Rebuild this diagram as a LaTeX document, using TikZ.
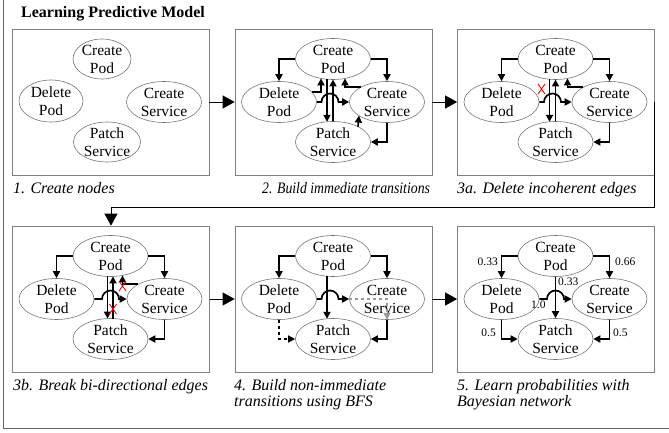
\documentclass[tikz,border=0pt]{standalone}
\usepackage{fontspec}
\setmainfont{Liberation Serif}
\usetikzlibrary{arrows.meta,calc,shapes.geometric}
\newcommand\stdnodes[3]{%
  \node[st,label={[txt]center:{Create\\Pod}}] (#1cp) at ($(#2,#3)+(98,30)$) {};
  \node[st,label={[txt]center:{Delete\\Pod}}] (#1dp) at ($(#2,#3)+(44,73)$) {};
  \node[st,label={[txt]center:{Create\\Service}}] (#1cs) at ($(#2,#3)+(152,73)$) {};
  \node[st,label={[txt]center:{Patch\\Service}}] (#1ps) at ($(#2,#3)+(98,113)$) {};
}
\newcommand\outeredges[1]{%
  \draw[edge] (#1cp.west) -| (#1dp.north);
  \draw[edge] (#1cp.east) -| (#1cs.north);
  \draw[edge] (#1cs.south) |- (#1ps.east);
}
\newcommand\hopedge[2]{%
  \draw[edge] (#1dp.east) -- ($(#1dp.east -| #1cp.center)+(#2-8.5,0)$)
    arc[start angle=180,end angle=360,radius=8.5] -- (#1cs.west);
}
\newcommand\redx[1]{%
  \draw[cross] ($(#1)+(-3.5,-5)$) -- ($(#1)+(3.5,5)$)
               ($(#1)+(3.5,-5)$) -- ($(#1)+(-3.5,5)$);
}
\begin{document}
\begin{tikzpicture}[x=1pt,y=-1pt,
  panel/.style={draw=black!50, line width=0.7pt, minimum width=197pt, minimum height=146pt, inner sep=0pt},
  st/.style={draw=black!55, line width=0.6pt, ellipse, minimum width=75pt, minimum height=41pt, inner sep=0pt},
  txt/.style={align=center, inner sep=0pt, font=\fontsize{15.5}{18}\selectfont},
  edge/.style={line width=1.7pt, -{Triangle[length=7pt,width=7pt]}},
  flow/.style={line width=0.9pt, -{Triangle[length=12pt,width=13pt]}},
  captxt/.style={anchor=base west, inner sep=0pt, font=\fontsize{16}{16.5}\itshape\selectfont, align=left},
  prob/.style={inner sep=0pt, font=\fontsize{11.5}{12}\selectfont},
  cross/.style={red, line width=0.9pt}
]
\useasboundingbox (0,0) rectangle (669,433);
% outer frame
\draw[black!60, line width=0.8pt] (3,0) -- (3,428) -- (669,428);
% title
\node[anchor=base west, inner sep=0pt, font=\fontsize{16}{18}\bfseries\selectfont] (title) at (21,18) {Learning Predictive Model};
% panels
\node[panel] (Pa) at (110.5,102) {};
\node[panel] (Pb) at (333.5,102) {};
\node[panel] (Pc) at (556,102) {};
\node[panel] (Pd) at (111,299) {};
\node[panel] (Pe) at (333.5,299) {};
\node[panel] (Pf) at (556,299) {};
% flow between panels
\coordinate (turn) at (111,207);
\draw[flow] (Pa.east) -- (Pb.west);
\draw[flow] (Pb.east) -- (Pc.west);
\draw[flow] (Pc.east) |- (turn) -- (Pd.north);
\draw[flow] (Pd.east) -- (Pe.west);
\draw[flow] (Pe.east) -- (Pf.west);
% captions
\node[captxt] (ca) at (13,193) {1. Create nodes};
\node[captxt] (cb) at (262,193) {\scalebox{0.86}[1]{2. Build immediate transitions}};
\node[captxt] (cc) at (457,193) {3a. Delete incoherent edges};
\node[captxt] (cd) at (13,390) {3b. Break bi-directional edges};
\node[captxt] (ce) at (234,406.5) {4. Build non-immediate\\transitions using BFS};
\node[captxt] (cf) at (457,406.5) {5. Learn probabilities with\\Bayesian network};
% ---------- panel 1
\node[st,minimum width=58pt,minimum height=40pt,label={[txt]center:{Create\\Pod}}] (acp) at (102,59) {};
\node[st,minimum width=64pt,minimum height=42pt,label={[txt]center:{Delete\\Pod}}] (adp) at (51,101) {};
\node[st,minimum width=75pt,minimum height=41pt,label={[txt]center:{Create\\Service}}] (acs) at (164,102) {};
\node[st,minimum width=67pt,minimum height=40pt,label={[txt]center:{Patch\\Service}}] (aps) at (107,142) {};
% ---------- panel 2
\stdnodes{b}{235}{29}
\outeredges{b}
\draw[edge] (bdp.17) -| ($(bcp.center)+(-12,19.4)$);
\draw[edge] ($(bcp.center)+(-6,20.2)$) -- ($(bps.center)+(-6,-20.2)$);
\draw[edge] ($(bps.center)+(0,-20.5)$) -- ($(bcp.center)+(0,20.5)$);
\draw[edge] (bcs.150) -| ($(bcp.center)+(12,19.4)$);
\draw[edge] ($(bps.center)+(25,-15.3)$) -- ($(bcs.center)+(-28,13.6)$);
\hopedge{b}{-3}
% ---------- panel 3a
\stdnodes{c}{457.5}{29}
\outeredges{c}
\draw[edge] ($(ccp.center)+(-6,20.2)$) -- ($(cps.center)+(-6,-20.2)$);
\draw[edge] ($(cps.center)+(0,-20.5)$) -- ($(ccp.center)+(0,20.5)$);
\draw[edge] (ccs.150) -| ($(ccp.center)+(12,19.4)$);
\hopedge{c}{-3}
\coordinate (xc) at ($(ccp.center)+(-14,30)$);
\redx{xc}
% ---------- panel 3b
\stdnodes{d}{12.5}{226}
\outeredges{d}
\draw[edge] ($(dcp.center)+(-3,20.4)$) -- ($(dps.center)+(-3,-20.4)$);
\draw[edge] ($(dps.center)+(2.5,-20.4)$) -- ($(dcp.center)+(2.5,20.4)$);
\draw[edge] (dcs.150) -| ($(dcp.center)+(12,19.4)$);
\hopedge{d}{0}
\coordinate (xd1) at ($(dcp.center)+(2.5,53)$);
\coordinate (xd2) at ($(dcp.center)+(12,30)$);
\redx{xd1}
\redx{xd2}
% ---------- panel 4
\stdnodes{e}{235}{226}
\outeredges{e}
\draw[edge] ($(ecp.center)+(-6,20.2)$) -- ($(eps.center)+(-6,-20.2)$);
\hopedge{e}{-3}
\draw[edge,dashed,line width=1.4pt] (edp.south) |- (eps.west);
\draw[edge,dashed,line width=1.2pt,black!40] (ecs.west) -| (ecs.south);
% ---------- panel 5
\stdnodes{f}{457.5}{226}
\outeredges{f}
\draw[edge] (fcp.south) -- (fps.north);
\hopedge{f}{0}
\draw[edge] (fdp.south) |- (fps.west);
\node[prob,anchor=east] (l1) at (498,262) {0.33};
\node[prob,anchor=west] (l2) at (615,262) {0.66};
\node[prob,anchor=west] (l3) at (558,282) {0.33};
\node[prob,anchor=west] (l4) at (531,305) {1.0};
\node[prob,anchor=east] (l5) at (496,333) {0.5};
\node[prob,anchor=west] (l6) at (613,333) {0.5};
\end{tikzpicture}
\end{document}
